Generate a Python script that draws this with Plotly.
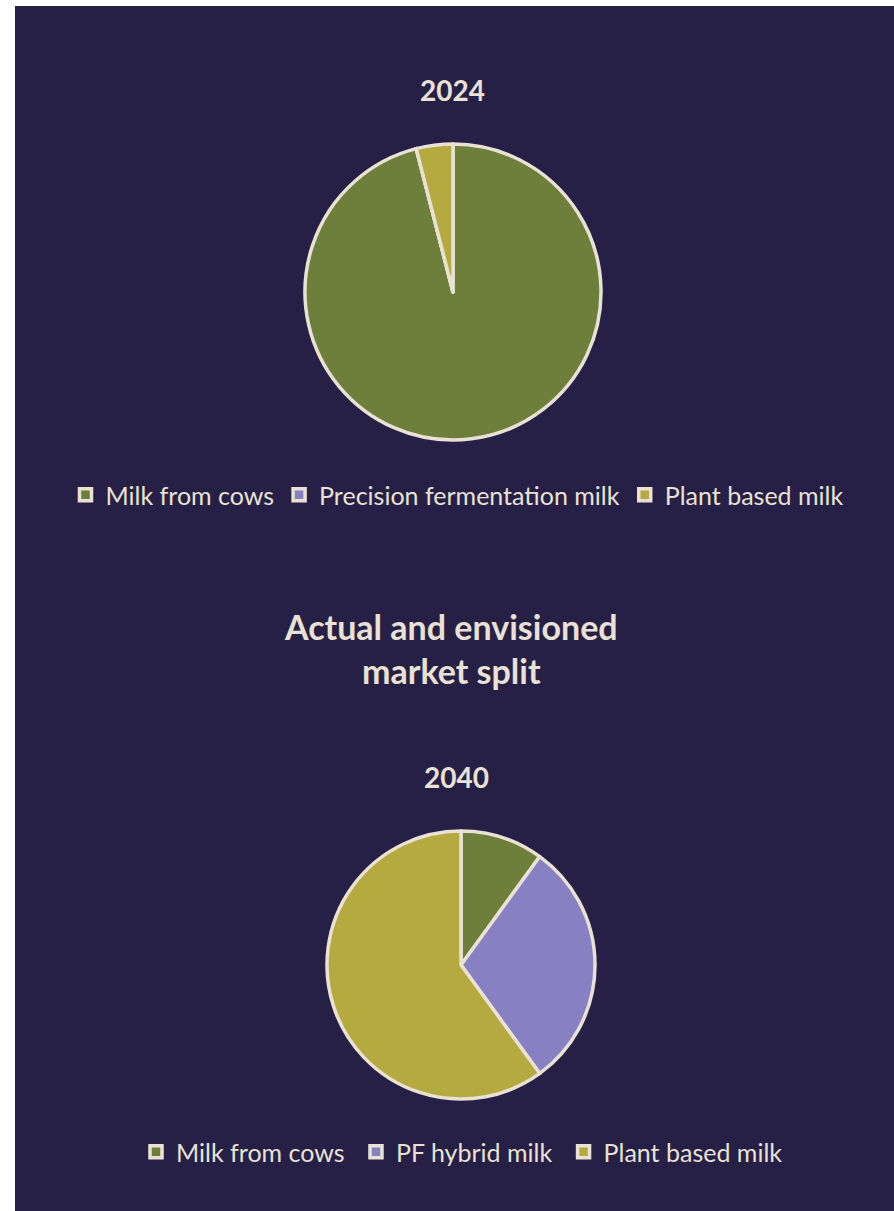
import plotly.graph_objects as go

W, H = 894, 1211

# Market split data
labels_2024 = ["Milk from cows", "Precision fermentation milk", "Plant based milk"]
values_2024 = [96, 0, 4]
labels_2040 = ["Milk from cows", "PF hybrid milk", "Plant based milk"]
values_2040 = [10, 30, 60]
slice_colors = ["#6E7F3B", "#8780C3", "#B5AA40"]

BG = "#262046"
CREAM = "#E9E2D4"
FONT = "Lato"


def px_x(x):
    return x / W


def px_y(y):
    return 1 - y / H


# Pie legend entries are keyed by label across the whole figure, so the
# second chart's labels get a trailing space to keep its own legend complete
# (the space is invisible once rendered).
legend_labels_2040 = [lab + " " for lab in labels_2040]

fig = go.Figure()

fig.add_trace(go.Pie(
    labels=labels_2024, values=values_2024, sort=False, direction="clockwise",
    rotation=0, textinfo="none", hoverinfo="label+percent",
    marker=dict(colors=slice_colors, line=dict(color=CREAM, width=3.5)),
    domain=dict(x=[px_x(305), px_x(601)], y=[px_y(440), px_y(144)]),
    legend="legend",
))
fig.add_trace(go.Pie(
    labels=legend_labels_2040, values=values_2040, sort=False, direction="clockwise",
    rotation=0, textinfo="none", hoverinfo="label+percent",
    marker=dict(colors=slice_colors, line=dict(color=CREAM, width=3.5)),
    domain=dict(x=[px_x(327), px_x(595)], y=[px_y(1099), px_y(831)]),
    legend="legend2",
))

legend_style = dict(
    orientation="h", xanchor="center", yanchor="middle",
    font=dict(family=FONT, size=25, color=CREAM),
    bgcolor="rgba(0,0,0,0)", itemclick=False, itemdoubleclick=False,
)


def title(text, x, y, size):
    return dict(text=text, x=px_x(x), y=px_y(y), xref="paper", yref="paper",
                xanchor="center", yanchor="middle", showarrow=False,
                font=dict(family=FONT, size=size, color=CREAM))


fig.update_layout(
    width=W, height=H,
    margin=dict(l=0, r=0, t=0, b=0),
    paper_bgcolor="white",
    font=dict(family=FONT, color=CREAM),
    legend=dict(x=px_x(457), y=px_y(495), **legend_style),
    legend2=dict(x=px_x(465), y=px_y(1152), **legend_style),
    shapes=[dict(type="rect", xref="paper", yref="paper",
                 x0=px_x(15), x1=1, y0=0, y1=px_y(6),
                 fillcolor=BG, line=dict(width=0), layer="below")],
    annotations=[
        title("<b>2024</b>", 452, 90, 28),
        title("<b>Actual and envisioned<br>market split</b>", 451, 648, 34),
        title("<b>2040</b>", 456, 777, 28),
    ],
)

fig.write_html("out.html")
